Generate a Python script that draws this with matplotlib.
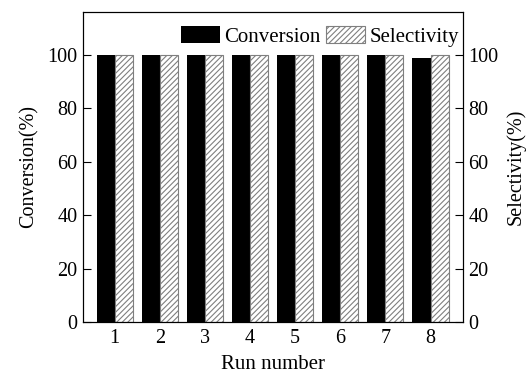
import matplotlib
matplotlib.use("Agg")
import matplotlib.pyplot as plt
import numpy as np

runs = [1, 2, 3, 4, 5, 6, 7, 8]
conversion = [100, 100, 100, 100, 100, 100, 100, 98.7]
selectivity = [100, 100, 100, 100, 100, 100, 100, 100]

plt.rcParams['font.family'] = ['Liberation Serif', 'DejaVu Serif']
plt.rcParams['hatch.color'] = '#7f7f7f'
plt.rcParams['hatch.linewidth'] = 0.8

fig = plt.figure(figsize=(5.27, 3.74), dpi=100)
ax = fig.add_axes([83 / 527, 1 - 322 / 374, 380 / 527, 310 / 374])

x = np.array(runs)
w = 0.4
ax.bar(x - w / 2, conversion, w, color='black', label='Conversion')
ax.bar(x + w / 2, selectivity, w, color='white', edgecolor='#7f7f7f',
       linewidth=0.8, hatch='//////', label='Selectivity')

ax.set_xlim(0.3, 8.72)
ax.set_ylim(0, 116)
ax.set_xticks(runs)
ax.set_yticks([0, 20, 40, 60, 80, 100])
ax.tick_params(axis='x', length=0, labelsize=14.5, pad=5)
ax.tick_params(axis='y', direction='in', length=6, labelsize=14.5, pad=4)
ax.set_xlabel('Run number', fontsize=15, labelpad=5)
ax.set_ylabel('Conversion(%)', fontsize=14.5, labelpad=6)

ax2 = ax.twinx()
ax2.set_ylim(0, 116)
ax2.set_yticks([0, 20, 40, 60, 80, 100])
ax2.tick_params(axis='y', direction='in', length=6, labelsize=14.5, pad=4)
ax2.set_ylabel('Selectivity(%)', fontsize=14.5, labelpad=5)

ax.legend(loc='upper right', bbox_to_anchor=(1.005, 0.975), ncol=2,
          frameon=False, fontsize=15,
          handlelength=1.85, handleheight=0.9, handletextpad=0.2,
          columnspacing=0.3, borderaxespad=0.0, borderpad=0.3)

fig.savefig('out.png', dpi=100)
